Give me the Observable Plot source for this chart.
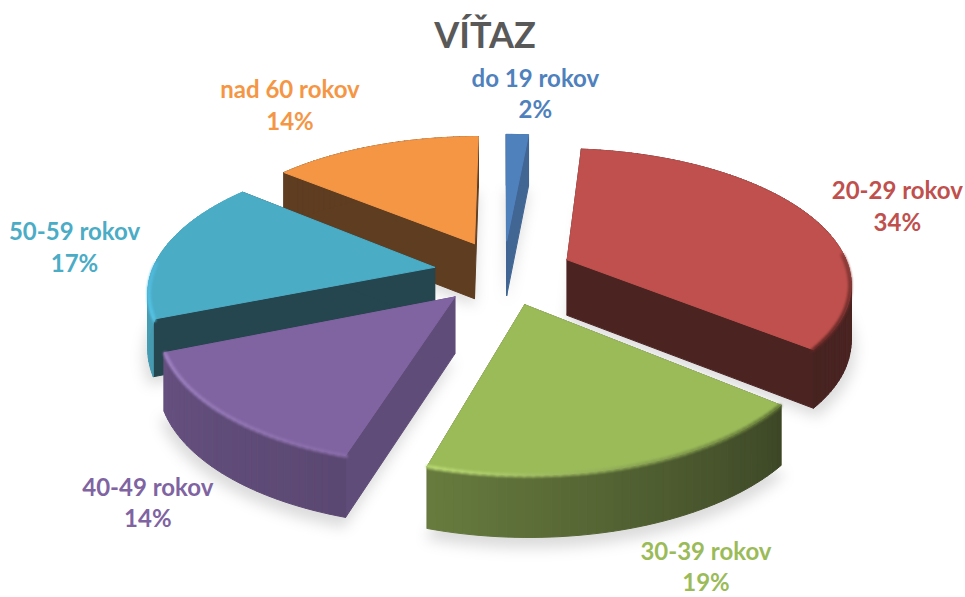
<!DOCTYPE html>
<html lang="sk">
<head>
<meta charset="utf-8">
<script src="https://cdn.jsdelivr.net/npm/d3@7"></script>
<script src="https://cdn.jsdelivr.net/npm/@observablehq/plot@0.6"></script>
<style>
html,body{margin:0;padding:0;background:#fff;overflow:hidden}
#title{height:58px;text-align:center;padding-left:5px;box-sizing:border-box;width:965px;
font:bold 36px/69px Lato,"Open Sans",sans-serif;color:#595959}
svg{display:block}
</style>
</head>
<body>
<div id="title">VÍŤAZ</div>
<div id="chart"></div>
<script>
const categories = ["do 19 rokov", "20-29 rokov", "30-39 rokov", "40-49 rokov", "50-59 rokov", "nad 60 rokov"];
const values = [1.5, 34.4, 18.8, 14.2, 17, 14.1];
const topColors = ["#4f81bd", "#c0504d", "#9bbb59", "#8064a2", "#4bacc6", "#f59645"];

// Layout of the exploded 3-D pie (camera and extrusion), separate from the data
const W = 965, H = 597, TITLE = 58;
const cx = 503, cy = 271.7, R = 283, EXPLODE = 70, DEPTH = 56, TILT = 0.467, CAMERA = 1800;
const radialShade = [0.8, 0.4, 0.5, 0.76, 0.42, 0.41];
const outerShade = [[0.8, 0.8], [0.44, 0.38], [0.4, 0.68], [0.72, 0.8], [0.9, 1.0], [0.41, 0.41]];
const rimColor = [null, ["#8a3b38", "#5e2624"], ["#5f7336", "#bcdc76"], ["#8a6daa", "#9d82c0"], ["#56c4e6", "#4fb8da"], null];
const labelShift = [[18, -42], [91, -8], [76, 99], [-77, 87], [-90, -2], [-85, -42]];

const total = d3.sum(values);
const rad = d => d * Math.PI / 180;
const cum = d3.cumsum(values);
const slices = categories.map((name, i) => {
  const a0 = (i ? cum[i - 1] : 0) / total * 360, a1 = cum[i] / total * 360;
  return {name, i, value: values[i], a0, a1, mid: (a0 + a1) / 2};
});
function project(s, theta, r, h) {
  const ox = EXPLODE * Math.sin(rad(s.mid)), oz = -EXPLODE * Math.cos(rad(s.mid));
  const X = ox + r * Math.sin(rad(theta)), Z = oz - r * Math.cos(rad(theta));
  const k = CAMERA / (CAMERA - Z);
  return {x: cx + X * k, y: cy + TILT * Z * k + h * Math.sqrt(k)};
}
const arcAngles = s => {
  const n = Math.max(2, Math.ceil((s.a1 - s.a0) / 1.5));
  return d3.range(n + 1).map(j => s.a0 + (s.a1 - s.a0) * j / n);
};
const polygon = (pts, id, color) => [...pts, pts[0]].map(p => ({...p, id, color}));
const shade = (c, t) => d3.interpolateLab("#000", c)(t);

const shadowRows = [], marks = [];
const lineOpts = {x: "x", y: "y", z: "id", fill: "color", stroke: "color", strokeWidth: 1, strokeLinejoin: "bevel"};

for (const s of [...slices].sort((a, b) => Math.cos(rad(b.mid)) - Math.cos(rad(a.mid)))) {
  const angles = arcAngles(s), c = topColors[s.i];
  const apexT = project(s, 0, 0, 0), apexB = project(s, 0, 0, DEPTH);
  const walls = [];
  const wallColor = shade(c, radialShade[s.i]);
  for (const edge of [s.a0, s.a1])
    walls.push(...polygon([apexT, project(s, edge, R, 0), project(s, edge, R, DEPTH), apexB], `w${edge}`, wallColor));
  angles.slice(1).forEach((t, j) => {
    const t0 = angles[j], f = j / (angles.length - 2 || 1);
    const col = shade(c, outerShade[s.i][0] + (outerShade[s.i][1] - outerShade[s.i][0]) * f);
    walls.push(...polygon([project(s, t0, R, 0), project(s, t, R, 0), project(s, t, R, DEPTH), project(s, t0, R, DEPTH)], `o${j}`, col));
  });
  const top = polygon([apexT, ...angles.map(t => project(s, t, R, 0))], "top", c);

  shadowRows.push(...polygon([project(s, s.a0, 0, DEPTH + 7), ...angles.map(t => project(s, t, R + 4, DEPTH + 7))], `s${s.i}`, "#000"));

  marks.push(Plot.line(walls, lineOpts));
  marks.push(Plot.line(top, lineOpts));

  if (rimColor[s.i]) {
    const front = angles.filter(t => Math.cos(rad(t)) < 0.05);
    const mix = d3.interpolateLab(...rimColor[s.i]);
    const rim = front.slice(1).flatMap((t, j) => {
      const col = mix(j / (front.length - 2 || 1));
      return [front[j], t].map(a => ({...project(s, a, R - 1, 1), id: j, color: col}));
    });
    marks.push(Plot.line(rim, {x: "x", y: "y", z: "id", stroke: "color", strokeWidth: 4, strokeOpacity: 0.8, imageFilter: "blur(1.3px)"}));
  }
}

const labelRows = slices.map(s => {
  const p = project(s, s.mid, R, 0);
  return {...p, text: `${s.name}\n${Math.round(s.value / total * 100)}%`, color: topColors[s.i], shift: labelShift[s.i]};
});
const labelMarks = labelRows.map(d => Plot.text([d], {
  x: "x", y: "y", text: "text", dx: d.shift[0], dy: d.shift[1], fill: d.color,
  fontFamily: "Lato, sans-serif", fontWeight: "bold", fontSize: 24, lineHeight: 1.32, textAnchor: "middle"
}));

const chart = Plot.plot({
  width: W, height: H - TITLE,
  marginTop: 0, marginRight: 0, marginBottom: 0, marginLeft: 0,
  x: {domain: [0, W], axis: null},
  y: {domain: [H, TITLE], axis: null},
  color: {type: "identity"},
  style: {background: "#fff"},
  marks: [
    Plot.line(shadowRows, {x: "x", y: "y", z: "id", fill: "#000", fillOpacity: 0.14, stroke: "none", imageFilter: "blur(7px)"}),
    ...marks,
    ...labelMarks
  ]
});
document.getElementById("chart").appendChild(chart);
</script>
</body>
</html>
